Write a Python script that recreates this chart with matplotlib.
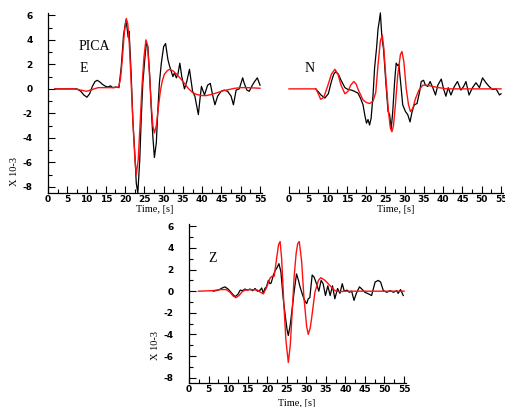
import matplotlib
matplotlib.use("Agg")
import matplotlib.pyplot as plt
from matplotlib.ticker import MultipleLocator

plt.rcParams['axes.unicode_minus'] = False

# ---- E component (observed = black, synthetic = red), amplitude in 1e-3 ----
e_obs_t = [1.8, 7.5, 8.5, 9.3, 10.1, 10.8, 11.5, 12.2, 12.8, 13.5, 14.2, 15.0, 15.6, 16.2, 16.8,
           17.5, 18.4, 19.0, 19.6, 20.2, 20.5, 20.8, 21.0, 21.2, 21.6, 22.0, 22.5, 22.9, 23.3,
           23.8, 24.2, 24.6, 25.1, 25.5, 25.9, 26.4, 26.8, 27.2, 27.6, 28.1, 28.5, 28.9, 29.4,
           30.0, 30.5, 31.1, 31.5, 32.0, 32.4, 32.8, 33.3, 33.7, 34.2, 34.7, 35.4, 36.0, 36.7,
           37.5, 38.1, 39.0, 39.5, 39.8, 40.6, 41.4, 42.1, 42.7, 43.3, 44.0, 44.9, 45.7, 46.6,
           47.5, 48.1, 48.8, 49.6, 50.5, 50.9, 51.6, 52.2, 53.0, 53.6, 54.3, 55.0]
e_obs_v = [0.0, 0.0, -0.2, -0.5, -0.68, -0.4, 0.2, 0.6, 0.7, 0.55, 0.35, 0.2, 0.15, 0.25, 0.1,
           0.15, 0.1, 1.8, 4.4, 5.6, 5.0, 4.2, 4.7, 3.7, 1.0, -2.5, -5.2, -7.7, -8.5,
           -5.8, -2.3, 0.5, 2.4, 3.7, 3.45, 1.0, -1.7, -3.9, -5.6, -4.4, -1.7, 0.5, 2.1,
           3.45, 3.7, 2.4, 1.9, 1.4, 1.0, 1.3, 0.9, 1.2, 2.1, 1.0, 0.0, 0.6, 1.6,
           -0.2, -0.6, -2.1, -0.6, 0.2, -0.5, 0.3, 0.45, -0.5, -1.3, -0.6, -0.2, -0.1, -0.2,
           -0.6, -1.3, -0.1, 0.0, 0.9, 0.45, -0.1, -0.2, 0.3, 0.6, 0.9, 0.3]
e_syn_t = [1.8, 7.0, 8.5, 10.0, 11.5, 13.0, 15.0, 17.0, 18.3, 18.8, 19.3, 19.8, 20.3, 20.7,
           21.1, 21.5, 22.0, 22.5, 22.9, 23.4, 23.9, 24.4, 24.9, 25.4, 25.8, 26.3, 26.8, 27.2,
           27.6, 28.1, 28.6, 29.1, 29.6, 30.2, 31.0, 31.6, 32.5, 33.5, 34.5, 35.5, 36.5, 37.5,
           38.5, 40.0, 41.0, 42.5, 44.0, 45.5, 47.0, 48.5, 50.0, 52.0, 55.0]
e_syn_v = [0.0, 0.0, -0.1, -0.2, -0.05, 0.1, 0.1, 0.1, 0.15, 0.8, 2.5, 4.6, 5.75, 5.3,
           3.6, 1.0, -2.5, -5.5, -7.0, -5.8, -2.8, 0.3, 2.6, 4.0, 3.6, 1.3, -1.4, -3.0,
           -3.6, -3.0, -1.6, -0.3, 0.6, 1.2, 1.5, 1.6, 1.45, 1.15, 0.8, 0.4, 0.0, -0.3,
           -0.45, -0.55, -0.55, -0.45, -0.3, -0.15, -0.05, 0.05, 0.1, 0.1, 0.05]

# ---- N component ----
n_obs_t = [6.9, 7.5, 8.3, 9.3, 10.2, 11.0, 11.6, 12.1, 12.8, 13.5, 14.5, 15.3, 16.2, 17.0, 17.9,
           18.6, 19.2, 19.7, 20.1, 20.5, 20.9, 21.3, 21.8, 22.2, 22.7, 23.1, 23.4, 23.7, 24.1,
           24.5, 24.8, 25.1, 25.7, 26.1, 26.5, 26.9, 27.4, 27.8, 28.2, 28.5, 29.1, 29.5, 30.2,
           30.8, 31.4, 31.9, 32.5, 33.2, 33.9, 34.3, 34.9, 35.4, 36.0, 36.6, 37.3, 38.0, 38.6,
           39.5, 40.1, 40.7, 41.3, 42.0, 42.9, 43.7, 44.6, 45.3, 45.9, 46.7, 47.6, 48.5, 49.4,
           50.2, 51.1, 51.9, 52.8, 53.7, 54.6, 55.0]
n_obs_v = [0.0, -0.2, -0.5, -0.75, -0.4, 0.6, 1.2, 1.4, 1.2, 0.7, 0.1, -0.05, -0.1, -0.2, -0.35,
           -0.8, -1.3, -2.2, -2.8, -2.5, -2.95, -2.4, -0.5, 1.7, 3.3, 4.9, 5.5, 6.2, 4.2,
           3.3, 2.0, 0.6, -1.85, -2.1, -3.3, -1.9, 0.6, 2.1, 1.9, 2.0, 0.05, -1.3, -1.85,
           -2.1, -2.7, -1.9, -1.3, -1.2, -0.2, 0.6, 0.7, 0.3, 0.2, 0.6, 0.1, -0.5, 0.3,
           0.8, 0.0, -0.6, 0.1, -0.5, 0.2, 0.6, -0.1, 0.2, 0.6, -0.5, 0.1, 0.5, 0.1,
           0.9, 0.5, 0.2, -0.05, 0.0, -0.5, -0.4]
n_syn_t = [0.0, 7.0, 7.6, 8.2, 9.0, 10.0, 11.0, 11.9, 12.7, 13.5, 14.5, 15.3, 16.0, 16.8, 17.4,
           18.0, 19.2, 20.0, 20.9, 21.8, 22.5, 23.1, 23.7, 24.2, 24.6, 25.2, 25.8, 26.3, 26.7,
           27.1, 27.6, 28.2, 28.9, 29.3, 29.8, 30.4, 31.0, 31.5, 32.1, 32.8, 33.7, 34.7, 35.9,
           37.2, 38.9, 41.0, 55.0]
n_syn_v = [0.0, 0.0, -0.4, -0.85, -0.7, 0.2, 1.2, 1.6, 1.2, 0.3, -0.4, -0.2, 0.3, 0.6, 0.4,
           -0.1, -0.9, -1.1, -1.2, -1.0, -0.3, 2.0, 3.9, 4.4, 3.3, 0.6, -1.85, -3.2, -3.5,
           -3.0, -1.3, 1.1, 2.8, 3.05, 2.2, 0.05, -1.3, -1.85, -1.6, -0.8, -0.1, 0.3, 0.3,
           0.2, 0.1, 0.0, 0.0]

# ---- Z component ----
z_obs_t = [6.2, 7.5, 8.5, 9.2, 10.0, 10.5, 11.2, 11.8, 12.5, 13.1, 13.7, 14.3, 15.0, 15.6, 16.3,
           16.9, 17.5, 18.2, 18.6, 19.0, 19.4, 19.8, 20.3, 20.7, 21.0, 21.6, 22.0, 22.4, 23.0,
           23.5, 24.1, 24.7, 25.1, 25.4, 25.9, 26.4, 26.9, 27.5, 28.0, 28.4, 29.0, 29.5, 30.1,
           30.5, 30.9, 31.5, 32.0, 32.6, 33.2, 33.8, 34.3, 34.9, 35.5, 36.1, 36.7, 37.3, 38.0,
           38.6, 39.2, 39.7, 40.4, 41.0, 41.6, 42.2, 42.8, 43.6, 44.2, 45.0, 45.9, 46.7, 47.6,
           48.4, 49.0, 49.7, 50.6, 51.4, 52.3, 53.1, 53.5, 54.1, 54.8]
z_obs_v = [0.0, 0.1, 0.3, 0.4, 0.2, 0.0, -0.3, -0.5, -0.3, 0.1, 0.05, 0.2, 0.1, 0.2, 0.05,
           0.25, 0.0, 0.1, 0.3, -0.2, 0.25, 0.4, 1.0, 0.7, 0.75, 1.5, 1.9, 2.1, 2.55,
           1.8, -0.7, -2.5, -3.6, -4.1, -3.1, -1.6, 0.0, 1.6, 1.0, 0.4, -0.3, -0.8, -1.15,
           -0.7, -0.6, 1.5, 1.3, 0.7, 0.0, 1.0, 0.7, -0.4, 0.5, -0.4, 0.5, -0.7, 0.25,
           -0.2, 0.7, 0.0, 0.1, -0.1, 0.0, -0.85, -0.2, 0.4, 0.2, -0.1, -0.25, -0.4, 0.85,
           1.0, 0.85, 0.05, -0.1, 0.05, -0.1, 0.05, -0.2, 0.15, -0.4]
z_syn_t = [2.4, 6.0, 8.0, 9.5, 10.5, 11.3, 12.0, 12.8, 13.6, 14.3, 16.0, 17.5, 18.3, 19.0, 19.8,
           20.7, 21.3, 21.8, 22.4, 22.9, 23.3, 23.7, 24.3, 24.8, 25.4, 25.9, 26.3, 26.9, 27.4,
           27.8, 28.2, 28.8, 29.4, 30.1, 30.5, 31.0, 31.4, 32.2, 33.1, 33.7, 34.8, 36.1, 37.3,
           38.5, 40.0, 55.0]
z_syn_v = [0.0, 0.05, 0.15, 0.15, -0.1, -0.45, -0.6, -0.4, -0.05, 0.1, 0.15, 0.1, -0.1, -0.25, 0.3,
           1.2, 1.4, 1.4, 3.0, 4.3, 4.6, 3.0, -1.5, -4.6, -6.6, -5.0, -2.5, 1.4, 3.5,
           4.4, 4.6, 2.8, -0.6, -3.3, -4.0, -3.4, -2.4, -0.1, 1.0, 1.25, 1.0, 0.5, 0.05,
           -0.05, 0.0, 0.0]

y_ticks = [-8, -6, -4, -2, 0, 2, 4, 6]
x_ticks = [0, 5, 10, 15, 20, 25, 30, 35, 40, 45, 50, 55]

W, H = 506, 407
fig = plt.figure(figsize=(W / 100, H / 100), dpi=100)

tick_font = {'family': ['Liberation Sans Narrow', 'DejaVu Sans'], 'weight': 'bold', 'size': 6.5}
serif = ['Liberation Serif', 'DejaVu Serif']


def make_axes(left_px, bottom_px, xscale, yscale, show_y):
    xlim = (0, 55.6)
    ylim = (-8.5, 6.2)
    w = (xlim[1] - xlim[0]) * xscale
    h = (ylim[1] - ylim[0]) * yscale
    ax = fig.add_axes([left_px / W, 1 - bottom_px / H, w / W, h / H])
    ax.set_xlim(*xlim)
    ax.set_ylim(*ylim)
    for s in ('top', 'right'):
        ax.spines[s].set_visible(False)
    ax.spines['bottom'].set_linewidth(0.9)
    ax.spines['left'].set_linewidth(0.9)
    ax.set_xticks(x_ticks)
    ax.xaxis.set_minor_locator(MultipleLocator(2.5))
    ax.tick_params(axis='x', which='major', direction='in', length=5, width=0.8, pad=1.5)
    ax.tick_params(axis='x', which='minor', direction='in', length=3, width=0.8)
    for lab in ax.get_xticklabels():
        lab.set_fontproperties(None)
    ax.set_xticklabels([str(v) for v in x_ticks], fontdict=tick_font)
    if show_y:
        ax.set_yticks(y_ticks)
        ax.yaxis.set_minor_locator(MultipleLocator(1))
        ax.tick_params(axis='y', which='major', direction='in', length=5, width=0.8, pad=11)
        ax.tick_params(axis='y', which='minor', direction='in', length=3, width=0.8)
        ax.set_yticklabels([str(v) for v in y_ticks], fontdict=tick_font)
    else:
        ax.spines['left'].set_visible(False)
        ax.set_yticks([])
    ax.patch.set_alpha(0)
    return ax


ax_e = make_axes(48, 193, 3.855, 12.25, True)
ax_n = make_axes(289, 193, 3.855, 12.25, False)
ax_z = make_axes(189, 383, 3.91, 10.8, True)

for ax, (ot, ov, st, sv) in zip(
        (ax_e, ax_n, ax_z),
        ((e_obs_t, e_obs_v, e_syn_t, e_syn_v),
         (n_obs_t, n_obs_v, n_syn_t, n_syn_v),
         (z_obs_t, z_obs_v, z_syn_t, z_syn_v))):
    ax.plot(ot, ov, color='black', lw=0.9, clip_on=False, zorder=3)
    ax.plot(st, sv, color='#ff1010', lw=1.0, clip_on=False, zorder=4)

# station / component labels
fig.text(79 / W, 1 - 46 / H, 'PICA', family=serif, fontsize=10, va='center', ha='left')
fig.text(80 / W, 1 - 69 / H, 'E', family=serif, fontsize=10, va='center', ha='left')
fig.text(305 / W, 1 - 68 / H, 'N', family=serif, fontsize=10, va='center', ha='left')
fig.text(208 / W, 1 - 258 / H, 'Z', family=serif, fontsize=10, va='center', ha='left')

# axis titles
for cx, cy in ((155, 209), (396, 209), (297, 403)):
    fig.text(cx / W, 1 - cy / H, 'Time, [s]', family=serif, fontsize=7.5,
             ha='center', va='center')
for cx, cy in ((15, 172), (156, 345)):
    fig.text(cx / W, 1 - cy / H, 'X 10-3', family=serif, fontsize=7.5, rotation=90,
             ha='center', va='center')

fig.savefig('out.png', dpi=100)
